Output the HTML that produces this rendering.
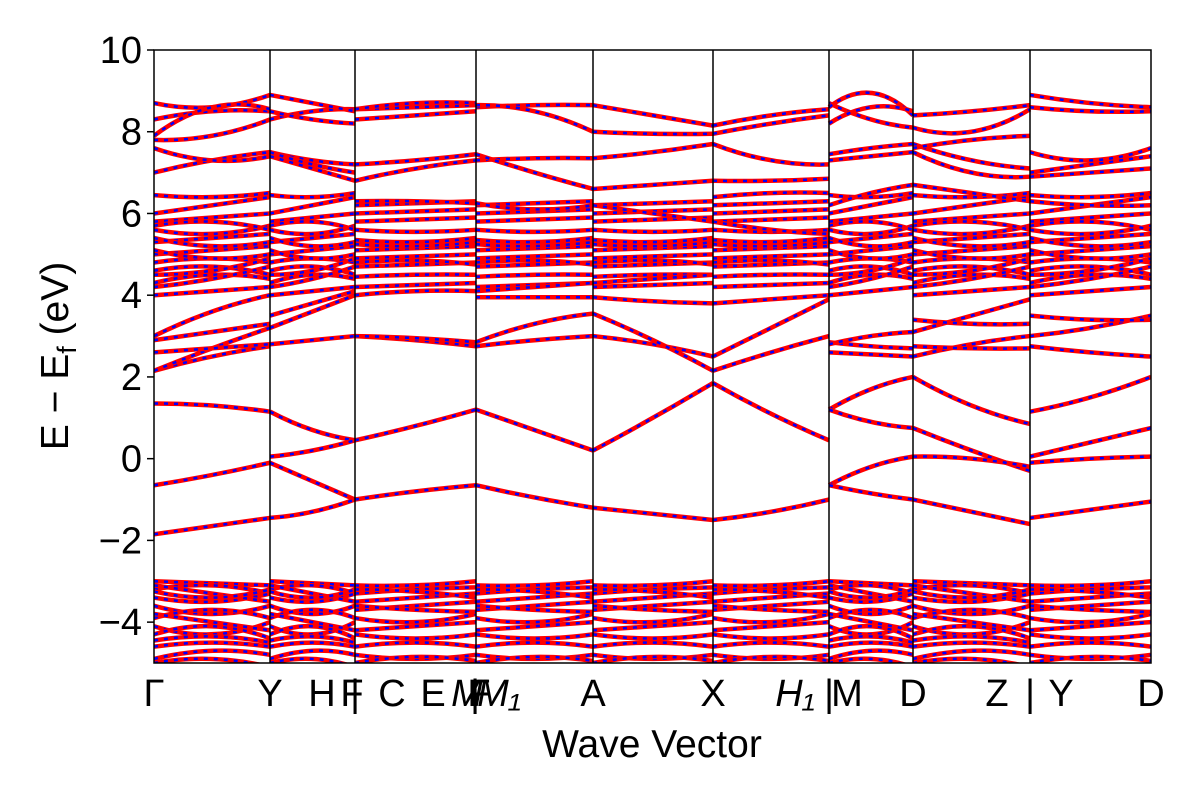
<!DOCTYPE html>
<html><head><meta charset="utf-8"><style>
body{margin:0;background:#fff;}
svg{display:block;font-family:"Liberation Sans","DejaVu Sans",sans-serif;}
</style></head><body>
<svg id="chart" width="1200" height="800" viewBox="0 0 1200 800" xmlns="http://www.w3.org/2000/svg">
<rect width="1200" height="800" fill="#fff"/>
<g id="bands"></g>
<g id="axes"></g>
</svg>
<script>
const segEdges = [0, 1.16, 2.01, 3.22, 4.39, 5.59, 6.75, 7.59, 8.76, 9.97];
const yTicks = [10, 8, 6, 4, 2, 0, -2, -4];
const yTickLabels = ["10", "8", "6", "4", "2", "0", "\u22122", "\u22124"];
const kLabels = ["\u0393", "Y", "H", "F", "|", "C", "E", "M", "|", "F", "M\u2081", "A", "X", "H\u2081", "|", "M", "D", "Z", "|", "Y", "D"];
const kLabelPos = [0, 1.16, 1.68, 1.98, 2.01, 2.38, 2.79, 3.13, 3.21, 3.25, 3.45, 4.39, 5.59, 6.41, 6.75, 6.93, 7.59, 8.43, 8.76, 9.07, 9.97];
// band data per segment: [start, mid, end] energies (eV)
const lowA = [[-3.0,-3.05,-3.1],[-3.2,-3.1,-3.3],[-3.4,-3.5,-3.3],[-3.6,-3.8,-3.6],[-3.9,-3.7,-3.9],[-4.1,-4.3,-4.0],[-4.3,-4.1,-4.4],[-4.6,-4.5,-4.6],[-4.9,-4.7,-4.8],[-5.0,-4.9,-5.1],[-3.1,-3.3,-3.5],[-3.8,-4.0,-4.2],[-3.25,-3.4,-3.2],[-4.45,-4.35,-4.5]];
const lowB = [[-3.1,-3.1,-3.0],[-3.3,-3.2,-3.15],[-3.5,-3.4,-3.3],[-3.7,-3.6,-3.5],[-3.9,-4.0,-3.8],[-4.2,-4.1,-4.0],[-4.3,-4.4,-4.3],[-4.6,-4.5,-4.6],[-4.8,-4.9,-4.8],[-5.0,-4.85,-4.95],[-3.2,-3.25,-3.4],[-3.6,-3.7,-3.75]];
const midA = [[4.0,4.1,4.2],[4.3,4.5,4.4],[4.6,4.7,4.5],[4.8,4.9,4.8],[5.0,5.1,5.2],[5.3,5.4,5.5],[5.6,5.5,5.7],[5.8,5.9,6.0],[6.0,6.2,6.4],[6.45,6.4,6.5],[4.2,4.4,4.7],[5.1,4.9,5.0],[4.5,4.6,4.9],[5.4,5.2,5.3],[5.7,5.8,5.6]];
const midB = [[4.2,4.25,4.3],[4.45,4.5,4.5],[4.7,4.75,4.8],[4.9,4.95,5.0],[5.1,5.15,5.2],[5.35,5.3,5.4],[5.6,5.55,5.6],[5.8,5.85,5.9],[6.0,6.05,6.1],[6.2,6.25,6.3],[4.8,4.85,4.75],[5.25,5.2,5.3]];
const seg1 = [[1.35,1.3,1.15],[-0.65,-0.4,-0.1],[-1.85,-1.65,-1.45],[2.15,2.5,2.75],[2.15,2.7,3.2],[2.9,3.1,3.3],[3.0,3.6,4.0],[2.6,2.7,2.8],[7.0,7.3,7.5],[7.6,7.3,7.4],[7.8,7.9,8.3],[8.3,8.5,8.5],[8.7,8.6,8.9],[7.9,8.6,8.55]];
const seg2 = [[1.15,0.7,0.45],[0.05,0.2,0.45],[-0.1,-0.55,-1.0],[-1.45,-1.3,-1.0],[2.8,2.9,3.0],[3.2,3.6,4.0],[3.5,3.8,4.1],[7.4,7.1,6.8],[7.5,7.3,7.2],[8.3,8.5,8.55],[8.9,8.7,8.5],[8.5,8.3,8.2],[7.5,7.2,7.0]];
const seg3 = [[0.45,0.8,1.2],[-1.0,-0.8,-0.65],[3.0,2.9,2.75],[3.0,2.95,2.85],[4.0,4.1,4.1],[6.8,7.1,7.3],[7.2,7.3,7.45],[8.55,8.6,8.65],[8.3,8.4,8.5],[8.55,8.7,8.7],[6.3,6.3,6.25]];
const seg4 = [[1.2,0.7,0.2],[-0.65,-0.95,-1.2],[2.75,2.9,3.0],[2.85,3.3,3.55],[3.95,3.95,3.95],[4.1,4.2,4.3],[7.3,7.35,7.35],[7.45,7.0,6.6],[8.6,8.65,8.65],[8.65,8.5,8.0],[6.25,6.1,6.2]];
const seg5 = [[0.2,1.0,1.85],[-1.2,-1.35,-1.5],[3.0,2.8,2.5],[3.55,2.9,2.15],[3.95,3.85,3.8],[4.3,4.4,4.5],[6.6,6.7,6.8],[7.35,7.5,7.7],[8.0,7.95,7.95],[8.65,8.4,8.15],[6.2,6.0,5.8]];
const seg6 = [[1.85,1.1,0.45],[-1.5,-1.3,-1.0],[2.15,2.6,3.0],[2.5,3.2,3.9],[3.8,3.9,4.0],[6.8,6.8,6.85],[7.7,7.3,7.2],[7.95,8.2,8.4],[8.15,8.4,8.55],[6.4,6.5,6.5],[5.8,5.6,5.5]];
const seg7 = [[1.2,1.7,2.0],[1.2,0.9,0.75],[-0.65,-0.2,0.05],[-0.65,-0.85,-1.0],[2.6,2.55,2.5],[2.85,2.75,2.7],[2.8,3.0,3.1],[7.3,7.4,7.5],[7.45,7.6,7.7],[8.7,8.3,8.1],[8.6,8.95,8.4],[8.2,8.6,8.5],[6.2,6.5,6.7]];
const seg8 = [[2.0,1.3,0.85],[0.75,0.2,-0.3],[0.05,0.0,-0.2],[-1.0,-1.3,-1.6],[2.5,2.8,3.0],[2.75,2.7,2.7],[3.1,3.5,3.9],[7.5,7.0,6.9],[7.7,7.3,7.1],[8.1,8.0,8.55],[8.4,8.5,8.65],[7.6,7.8,7.9],[6.7,6.5,6.3],[3.4,3.3,3.3]];
const seg9 = [[1.15,1.5,2.0],[0.05,0.4,0.75],[-0.1,0.0,0.05],[-1.45,-1.25,-1.05],[2.75,2.6,2.5],[3.0,3.2,3.5],[3.5,3.4,3.4],[7.0,7.2,7.4],[7.5,7.3,7.6],[8.9,8.7,8.6],[8.6,8.5,8.5],[6.9,7.0,7.1],[6.3,6.2,6.2]];
const segBands = [seg1, seg2, seg3, seg4, seg5, seg6, seg7, seg8, seg9];
const segLow = [lowA, lowA, lowB, lowB, lowB, lowB, lowA, lowA, lowB];
const segMid = [midA, midA, midB, midB, midB, midB, midA, midA, midA];

const X0 = 154, X1 = 1151, Y0 = 50, Y1 = 663, EMIN = -5, EMAX = 10;
const xScale = d => X0 + d / segEdges[segEdges.length - 1] * (X1 - X0);
const yScale = e => Y1 - (e - EMIN) / (EMAX - EMIN) * (Y1 - Y0);
const NS = "http://www.w3.org/2000/svg";
const bandsG = document.getElementById("bands");
const axesG = document.getElementById("axes");

const clip = document.createElementNS(NS, "clipPath");
clip.setAttribute("id", "plotclip");
const cr = document.createElementNS(NS, "rect");
cr.setAttribute("x", X0); cr.setAttribute("y", Y0); cr.setAttribute("width", X1 - X0); cr.setAttribute("height", Y1 - Y0);
clip.appendChild(cr);
document.getElementById("chart").insertBefore(clip, bandsG);
bandsG.setAttribute("clip-path", "url(#plotclip)");

function drawBand(i, b) {
  const xa = xScale(segEdges[i]), xb = xScale(segEdges[i + 1]);
  const ya = yScale(b[0]), ym = yScale(b[1]), yb = yScale(b[2]);
  const cx = (xa + xb) / 2, cy = 2 * ym - (ya + yb) / 2;
  const d = `M${xa},${ya} Q${cx},${cy} ${xb},${yb}`;
  const r = document.createElementNS(NS, "path");
  r.setAttribute("d", d); r.setAttribute("fill", "none"); r.setAttribute("stroke", "#ff0000"); r.setAttribute("stroke-width", "4.5");
  
  
  bandsG.appendChild(r);
  const bl = document.createElementNS(NS, "path");
  bl.setAttribute("d", d); bl.setAttribute("fill", "none"); bl.setAttribute("stroke", "#0000ff"); bl.setAttribute("stroke-width", "2.5"); bl.setAttribute("stroke-dasharray", "4,6");
  
  
  bandsG.appendChild(bl);
}
for (let i = 0; i < segBands.length; i++) {
  segLow[i].forEach(b => drawBand(i, b));
  segMid[i].forEach(b => drawBand(i, b));
  segBands[i].forEach(b => drawBand(i, b));
}

for (let i = 1; i < segEdges.length - 1; i++) {
  const l = document.createElementNS(NS, "line");
  const x = xScale(segEdges[i]);
  l.setAttribute("x1", x); l.setAttribute("x2", x); l.setAttribute("y1", Y0); l.setAttribute("y2", Y1);
  l.setAttribute("stroke", "#000"); l.setAttribute("stroke-width", "1.5");
  
  
  axesG.appendChild(l);
}
const frame = document.createElementNS(NS, "rect");
frame.setAttribute("x", X0); frame.setAttribute("y", Y0); frame.setAttribute("width", X1 - X0); frame.setAttribute("height", Y1 - Y0);
frame.setAttribute("fill", "none"); frame.setAttribute("stroke", "#000"); frame.setAttribute("stroke-width", "1.5");


axesG.appendChild(frame);

yTicks.forEach((v, i) => {
  const y = yScale(v);
  const t = document.createElementNS(NS, "line");
  t.setAttribute("x1", X0 - 7); t.setAttribute("x2", X0); t.setAttribute("y1", y); t.setAttribute("y2", y);
  t.setAttribute("stroke", "#000"); t.setAttribute("stroke-width", "1.5");
  
  
  axesG.appendChild(t);
  const tx = document.createElementNS(NS, "text");
  tx.setAttribute("x", X0 - 12); tx.setAttribute("y", y + 13); tx.setAttribute("text-anchor", "end"); tx.setAttribute("font-size", "38");
  tx.textContent = yTickLabels[i];
  
  
  axesG.appendChild(tx);
});
kLabels.forEach((s, i) => {
  const tx = document.createElementNS(NS, "text");
  tx.setAttribute("x", xScale(kLabelPos[i])); tx.setAttribute("y", 706); tx.setAttribute("text-anchor", "middle"); tx.setAttribute("font-size", "38");
  if (s.startsWith("M\u2081") || s.startsWith("H\u2081") || (s === "M" && i === 7)) tx.setAttribute("font-style", "italic");
  tx.textContent = s;
  
  
  axesG.appendChild(tx);
});
const xt = document.createElementNS(NS, "text");
xt.setAttribute("x", 652); xt.setAttribute("y", 757); xt.setAttribute("text-anchor", "middle"); xt.setAttribute("font-size", "39");
xt.textContent = "Wave Vector";


axesG.appendChild(xt);
const yt = document.createElementNS(NS, "text");
yt.setAttribute("transform", "translate(68,356) rotate(-90)"); yt.setAttribute("text-anchor", "middle"); yt.setAttribute("font-size", "39");
yt.innerHTML = 'E \u2212 E<tspan font-size="27" dy="8">f</tspan><tspan dy="-8"> (eV)</tspan>';


axesG.appendChild(yt);
</script>
</body></html>
